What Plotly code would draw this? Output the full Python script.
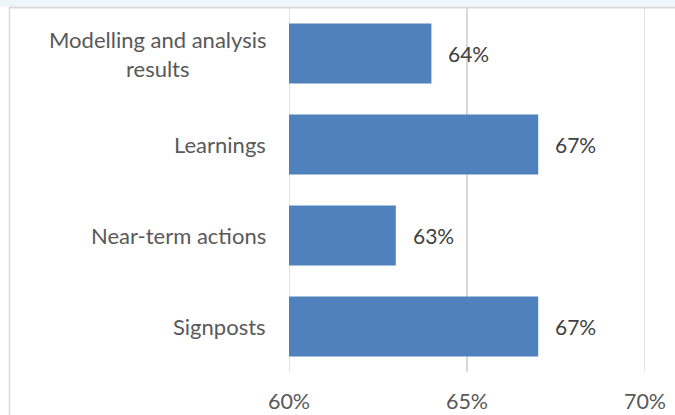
import plotly.graph_objects as go

# Survey share by topic (percent)
categories = ["Modelling and analysis<br>results", "Learnings", "Near-term actions", "Signposts"]
values = [64, 67, 63, 67]
x_ticks = [60, 65, 70]
x_tick_labels = ["60%", "65%", "70%"]

BAR_COLOR = "#4F81BD"
GRID_COLOR = "#D9D9D9"
FONT = "Lato, 'Open Sans', sans-serif"

fig = go.Figure()
fig.add_trace(go.Bar(
    y=categories,
    x=values,
    base=0,
    orientation="h",
    marker=dict(color=BAR_COLOR, line=dict(width=0)),
    hoverinfo="skip",
))

# value labels to the right of each bar
for c, v in zip(categories, values):
    fig.add_annotation(
        x=v, y=c, xref="x", yref="y",
        text=f"{v}%", showarrow=False,
        xanchor="left", xshift=15,
        font=dict(family=FONT, size=21, color="#404040"),
    )

# category labels, centred when wrapped
for c in categories:
    fig.add_annotation(
        x=0, y=c, xref="paper", yref="y",
        text=c, showarrow=False,
        xanchor="right", xshift=-21, align="center",
        font=dict(family=FONT, size=22, color="#595959"),
    )

W, H = 675, 415
ml, mr, mt, mb = 289, 30, 8, 43
pw, ph = W - ml - mr, H - mt - mb

def px_x(p):
    return (p - ml) / pw

def px_y(p):
    return (H - mb - p) / ph

shapes = [
    # pale strip above the chart frame
    dict(type="rect", xref="paper", yref="paper",
         x0=px_x(0), x1=px_x(W + 5), y0=px_y(0), y1=px_y(6.5),
         fillcolor="#EEF5FB", line=dict(width=0), layer="above"),
    # chart frame: top and left edges
    dict(type="line", xref="paper", yref="paper",
         x0=px_x(9), x1=px_x(W + 5), y0=px_y(7.5), y1=px_y(7.5),
         line=dict(color=GRID_COLOR, width=2), layer="above"),
    dict(type="line", xref="paper", yref="paper",
         x0=px_x(9.5), x1=px_x(9.5), y0=px_y(7), y1=px_y(H + 5),
         line=dict(color=GRID_COLOR, width=1.5), layer="above"),
]
# vertical axis line at the left edge and gridline at the right edge
for xv in (x_ticks[0], x_ticks[-1]):
    shapes.append(dict(type="line", xref="x", yref="paper",
                       x0=xv, x1=xv, y0=0, y1=1,
                       line=dict(color=GRID_COLOR, width=1.5), layer="below"))

fig.update_layout(
    width=W, height=H,
    margin=dict(l=ml, r=mr, t=mt, b=mb, autoexpand=False),
    paper_bgcolor="white", plot_bgcolor="white",
    showlegend=False,
    bargap=0.34,
    shapes=shapes,
    xaxis=dict(
        range=[60, 70], tickvals=x_ticks, ticktext=x_tick_labels,
        showgrid=True, gridcolor=GRID_COLOR, gridwidth=1.5,
        zeroline=False, showline=False, ticks="",
        tickfont=dict(family=FONT, size=21.5, color="#595959"),
        ticklabelstandoff=14, fixedrange=True, automargin=False,
    ),
    yaxis=dict(
        categoryorder="array", categoryarray=categories,
        autorange="reversed", automargin=False,
        showticklabels=False, showgrid=False, zeroline=False,
        showline=False, ticks="", fixedrange=True,
    ),
)

fig.write_html("out.html")
